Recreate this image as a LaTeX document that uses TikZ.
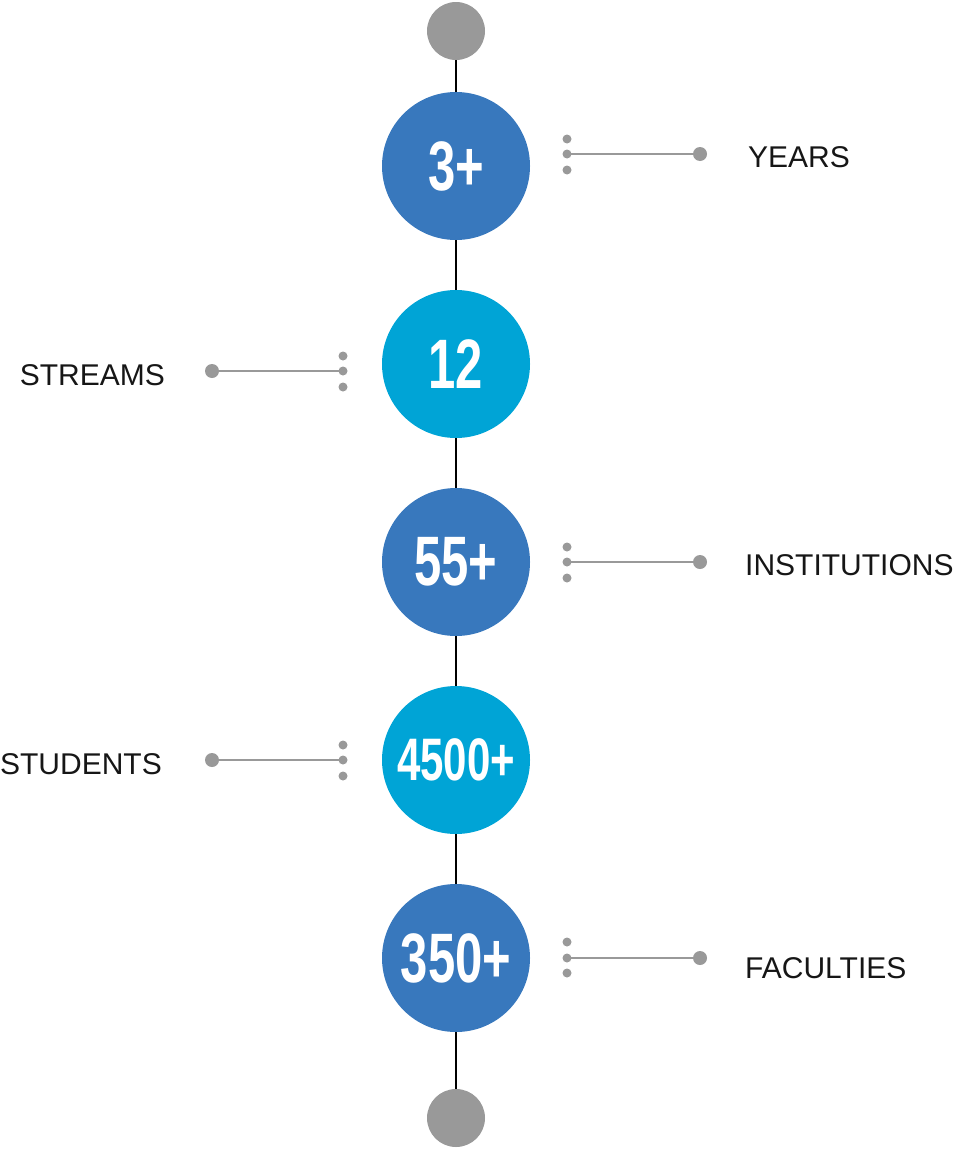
\documentclass[tikz,border=0pt]{standalone}
\usepackage{fontspec}
\usepackage{graphicx}
\setmainfont{Liberation Sans}
\newfontfamily\numfont{Liberation Sans}
\definecolor{dblue}{RGB}{56,120,189}
\definecolor{lblue}{RGB}{0,164,214}
\definecolor{dotgray}{RGB}{153,153,153}
\definecolor{txt}{RGB}{22,22,22}
\newcommand{\bignum}[2][70]{\scalebox{0.7}[1]{\fontsize{#1}{#1}\numfont\bfseries #2}}
\begin{document}
\begin{tikzpicture}[x=1pt,y=-1pt,
  endcap/.style={circle,fill=dotgray,minimum size=58pt,inner sep=0pt},
  stat/.style={circle,minimum size=148pt,inner sep=0pt,text=white},
  sdot/.style={circle,fill=dotgray,minimum size=9pt,inner sep=0pt},
  bdot/.style={circle,fill=dotgray,minimum size=14pt,inner sep=0pt},
  spine/.style={draw=black,line width=1.3pt},
  lead/.style={draw=dotgray,line width=1.3pt},
  rlabel/.style={anchor=base west,inner sep=0pt,text=txt,font=\fontsize{30}{30}\selectfont},
  llabel/.style={anchor=base east,inner sep=0pt,text=txt,font=\fontsize{30}{30}\selectfont}]
\useasboundingbox (0,0) rectangle (958,1151);
% spine nodes
\node[endcap] (top) at (456,31) {};
\node[stat,fill=dblue] (c1) at (456,166) {\bignum{3+}};
\node[stat,fill=lblue] (c2) at (456,364) {\bignum{12}};
\node[stat,fill=dblue] (c3) at (456,562) {\bignum{55+}};
\node[stat,fill=lblue] (c4) at (456,760) {\bignum[60]{4500+}};
\node[stat,fill=dblue] (c5) at (456,958) {\bignum{350+}};
\node[endcap] (bot) at (456,1118) {};
\draw[spine] (top) -- (c1);
\draw[spine] (c1) -- (c2);
\draw[spine] (c2) -- (c3);
\draw[spine] (c3) -- (c4);
\draw[spine] (c4) -- (c5);
\draw[spine] (c5) -- (bot);
% YEARS (right)
\node[sdot] (a1) at (567,139) {};
\node[sdot] (a2) at (567,154) {};
\node[sdot] (a3) at (567,170) {};
\node[bdot] (a4) at (700,154) {};
\draw[lead] (a2.center) -- (a4.center);
\node[rlabel] (la) at (748,167) {YEARS};
% STREAMS (left)
\node[sdot] (b1) at (343,356) {};
\node[sdot] (b2) at (343,371) {};
\node[sdot] (b3) at (343,387) {};
\node[bdot] (b4) at (212,371) {};
\draw[lead] (b4.center) -- (b2.center);
\node[llabel] (lb) at (165,385) {STREAMS};
% INSTITUTIONS (right)
\node[sdot] (d1) at (567,547) {};
\node[sdot] (d2) at (567,562) {};
\node[sdot] (d3) at (567,578) {};
\node[bdot] (d4) at (700,562) {};
\draw[lead] (d2.center) -- (d4.center);
\node[rlabel] (ld) at (745,575) {INSTITUTIONS};
% STUDENTS (left)
\node[sdot] (e1) at (343,745) {};
\node[sdot] (e2) at (343,760) {};
\node[sdot] (e3) at (343,776) {};
\node[bdot] (e4) at (212,760) {};
\draw[lead] (e4.center) -- (e2.center);
\node[llabel] (le) at (162,774) {STUDENTS};
% FACULTIES (right)
\node[sdot] (f1) at (567,942) {};
\node[sdot] (f2) at (567,958) {};
\node[sdot] (f3) at (567,973) {};
\node[bdot] (f4) at (700,958) {};
\draw[lead] (f2.center) -- (f4.center);
\node[rlabel] (lf) at (745,978) {FACULTIES};
\end{tikzpicture}
\end{document}
